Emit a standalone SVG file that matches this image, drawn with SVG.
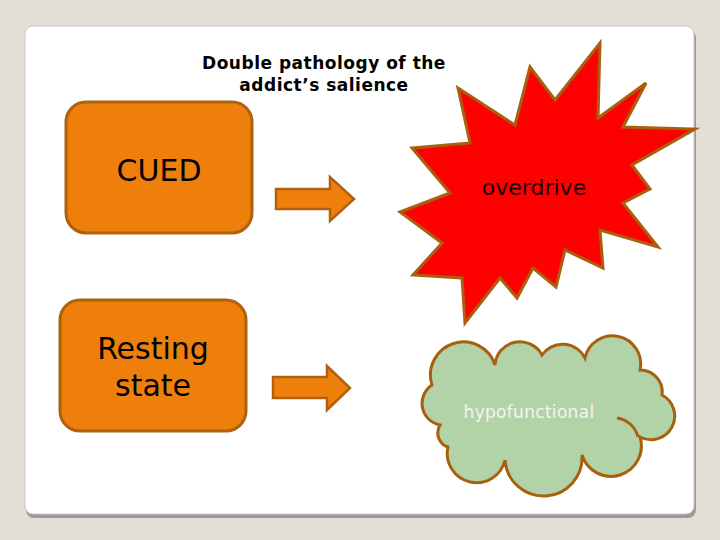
<svg xmlns="http://www.w3.org/2000/svg" width="720" height="540" viewBox="0 0 720 540">
<style>
.box{fill:#ef7f0b;stroke:#b0600f;stroke-width:3}
.arr{fill:#ef7f0b;stroke:#b0600f;stroke-width:2.5}
.t{font-family:"DejaVu Sans",sans-serif}
</style>
<rect width="720" height="540" fill="#e4dfd6"/>
<rect x="26" y="30" width="670" height="488" rx="8" fill="#9a9a9a"/>
<rect x="25" y="26" width="669" height="488" rx="8" fill="#fff" stroke="#c8c8c8"/>
<g id="title"><text class="t" x="324" y="69" text-anchor="middle" font-size="17" font-weight="bold" letter-spacing="0.5">Double pathology of the</text>
<text class="t" x="324" y="91" text-anchor="middle" font-size="17" font-weight="bold" letter-spacing="0.5">addict’s salience</text></g>
<g id="cued"><rect class="box" x="66" y="102" width="186" height="131" rx="20"/>
<text class="t" x="159" y="181" text-anchor="middle" font-size="30">CUED</text></g>
<g id="resting"><rect class="box" x="60" y="300" width="186" height="131" rx="20"/>
<text class="t" x="153" y="359" text-anchor="middle" font-size="30">Resting</text>
<text class="t" x="153" y="396" text-anchor="middle" font-size="30">state</text></g>
<g id="connectors">
<path class="arr" d="M276,189 H330 V177 L354,199 L330,221 V209 H276 Z"/>
<path class="arr" d="M273,377 H327 V366 L350,388 L327,410 V398 H273 Z"/>
</g>
<g id="overdrive"><path fill="#ff0000" stroke="#a8600f" stroke-width="3" stroke-linejoin="miter" d="M600,43 L598,118 L646,83 L623,127 L695,129 L632,165 L650,189 L623,203 L658,247 L600,230 L603,268 L565,250 L556,287 L533,268 L517,298 L500,278 L465,323 L462,278 L413,275 L442,243 L400,212 L450,193 L412,148 L470,143 L458,88 L515,125 L530,67 L555,100 Z"/>
<text class="t" x="534" y="195" text-anchor="middle" font-size="22" fill="#2a0000">overdrive</text></g>
<g id="hypofunctional"><path fill="#b2d3a8" stroke="#a8600f" stroke-width="3" d="M440,425 A22,22 0 0 1 432,385 A30,30 0 0 1 495,365 A25,25 0 0 1 542,355 A25,25 0 0 1 585,358 A25,25 0 0 1 640,370 A22,22 0 0 1 662,395 A22,22 0 0 1 640,437 A28,28 0 0 1 582,455 A35,35 0 0 1 505,460 A25,25 0 0 1 448,447 A15,15 0 0 1 440,425 Z"/>
<path fill="none" stroke="#a8600f" stroke-width="3" d="M617,418 A25,25 0 0 1 638,437"/>
<text class="t" x="529" y="418" text-anchor="middle" font-size="17" fill="#f4f4f4" letter-spacing="0.3">hypofunctional</text></g>
</svg>
